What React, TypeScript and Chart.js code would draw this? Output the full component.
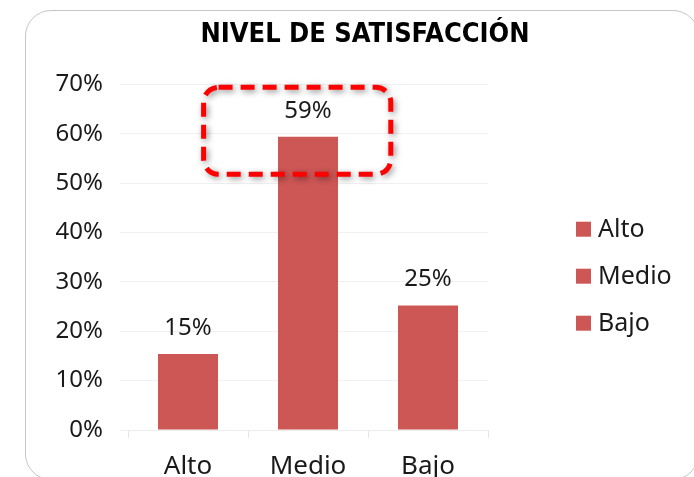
import React, { useEffect, useRef } from "react";
import { Chart, registerables } from "chart.js";

Chart.register(...registerables);

// ---- data ----
const categories = ["Alto", "Medio", "Bajo"];
const satisfaction = [0.154, 0.594, 0.252];
const yMin = 0;
const yMax = 0.7;
const yStep = 0.1;
const TITLE = "NIVEL DE SATISFACCIÓN";
// highlighted region (category index range, value range)
const highlightX = [0.13, 1.69];
const highlightY = [0.518, 0.694];

const BAR_COLOR = "#cd5755";
const TEXT_COLOR = "#1a1a1a";
const FONT = "'Noto Sans', 'DejaVu Sans', sans-serif";
const pct = (v: number) => Math.round(v * 100) + "%";

const dataLabelPlugin = {
  id: "dataLabels",
  afterDatasetsDraw(chart: any) {
    const ctx = chart.ctx;
    const meta = chart.getDatasetMeta(0);
    ctx.save();
    ctx.font = `24px ${FONT}`;
    ctx.fillStyle = TEXT_COLOR;
    ctx.textAlign = "center";
    ctx.textBaseline = "middle";
    meta.data.forEach((bar: any, i: number) => {
      ctx.fillText(pct(satisfaction[i]), bar.x, bar.y - 26);
    });
    ctx.restore();
  },
};

const highlightPlugin = {
  id: "highlight",
  afterDraw(chart: any) {
    const ctx = chart.ctx;
    const xs = chart.scales.x;
    const ys = chart.scales.y;
    const x1 = xs.getPixelForValue(highlightX[0]);
    const x2 = xs.getPixelForValue(highlightX[1]);
    const y1 = ys.getPixelForValue(highlightY[1]);
    const y2 = ys.getPixelForValue(highlightY[0]);
    const r = 15;
    ctx.save();
    ctx.beginPath();
    ctx.moveTo(x1 + r, y1);
    ctx.lineTo(x2 - r, y1);
    ctx.arcTo(x2, y1, x2, y1 + r, r);
    ctx.lineTo(x2, y2 - r);
    ctx.arcTo(x2, y2, x2 - r, y2, r);
    ctx.lineTo(x1 + r, y2);
    ctx.arcTo(x1, y2, x1, y2 - r, r);
    ctx.lineTo(x1, y1 + r);
    ctx.arcTo(x1, y1, x1 + r, y1, r);
    ctx.closePath();
    ctx.setLineDash([14, 8]);
    ctx.lineWidth = 5;
    ctx.strokeStyle = "#ff0000";
    ctx.shadowColor = "rgba(0,0,0,0.45)";
    ctx.shadowBlur = 6;
    ctx.shadowOffsetX = 2;
    ctx.shadowOffsetY = 2;
    ctx.stroke();
    ctx.restore();
  },
};

const legendPlugin = {
  id: "sideLegend",
  afterDraw(chart: any) {
    const ctx = chart.ctx;
    const area = chart.chartArea;
    const cy = (area.top + area.bottom) / 2 + 19;
    const x = area.right + 88;
    const gap = 47;
    ctx.save();
    ctx.font = `25px ${FONT}`;
    ctx.textAlign = "left";
    ctx.textBaseline = "middle";
    categories.forEach((label, i) => {
      const y = cy + (i - (categories.length - 1) / 2) * gap;
      ctx.fillStyle = BAR_COLOR;
      ctx.fillRect(x, y - 7.5, 15, 15);
      ctx.fillStyle = TEXT_COLOR;
      ctx.fillText(label, x + 22, y + 1);
    });
    ctx.restore();
  },
};

export default function App() {
  const ref = useRef<HTMLCanvasElement | null>(null);

  useEffect(() => {
    if (!ref.current) return;
    const chart = new Chart(ref.current, {
      type: "bar",
      data: {
        labels: categories,
        datasets: [
          {
            label: "Nivel",
            data: satisfaction,
            backgroundColor: BAR_COLOR,
            barPercentage: 0.5,
            categoryPercentage: 1,
          },
        ],
      },
      options: {
        animation: false,
        responsive: false,
        devicePixelRatio: 1,
        layout: { padding: { left: 36, right: 0, top: 0, bottom: 0 } },
        plugins: {
          legend: { display: false },
          tooltip: { enabled: false },
          title: {
            display: true,
            text: TITLE,
            color: "#000",
            font: {
              family: "'Liberation Sans Narrow', 'DejaVu Sans Condensed', 'Liberation Sans', sans-serif",
              size: 27,
              weight: "bold",
            },
            padding: { top: 19, bottom: 33 },
          },
        },
        scales: {
          x: {
            type: "category",
            offset: true,
            grid: {
              offset: true,
              drawOnChartArea: false,
              drawTicks: true,
              tickLength: 8,
              color: "#e4e4e4",
            },
            border: { display: true, color: "#ececec" },
            ticks: {
              color: TEXT_COLOR,
              font: { family: FONT, size: 26 },
              padding: 13,
              maxRotation: 0,
            },
            afterFit(s: any) {
              s.height = 70;
            },
          },
          y: {
            type: "linear",
            min: yMin,
            max: yMax,
            ticks: {
              stepSize: yStep,
              color: TEXT_COLOR,
              font: { family: FONT, size: 24 },
              padding: 17,
              callback: (v: any) => pct(Number(v)),
            },
            grid: { color: "#f0f0f0", tickLength: 8 },
            border: { display: false },
            afterFit(s: any) {
              s.width = 92;
            },
          },
          side: {
            type: "linear",
            position: "right",
            display: true,
            grid: { display: false },
            ticks: { display: false },
            border: { display: false },
            afterFit(s: any) {
              s.width = 206;
            },
          },
        },
      },
      plugins: [dataLabelPlugin, highlightPlugin, legendPlugin],
    } as any);
    return () => chart.destroy();
  }, []);

  return (
    <div
      style={{
        position: "absolute",
        left: 0,
        top: 0,
        width: 694,
        height: 477,
        overflow: "hidden",
        background: "#fff",
      }}
    >
      <div
        style={{
          position: "absolute",
          left: 25,
          top: 10,
          width: 674,
          height: 470,
          border: "1px solid #c6c6c6",
          borderRadius: 26,
          boxSizing: "border-box",
        }}
      />
      <canvas
        ref={ref}
        width={694}
        height={500}
        style={{ position: "absolute", left: 0, top: 0, width: 694, height: 500, display: "block" }}
      />
    </div>
  );
}
